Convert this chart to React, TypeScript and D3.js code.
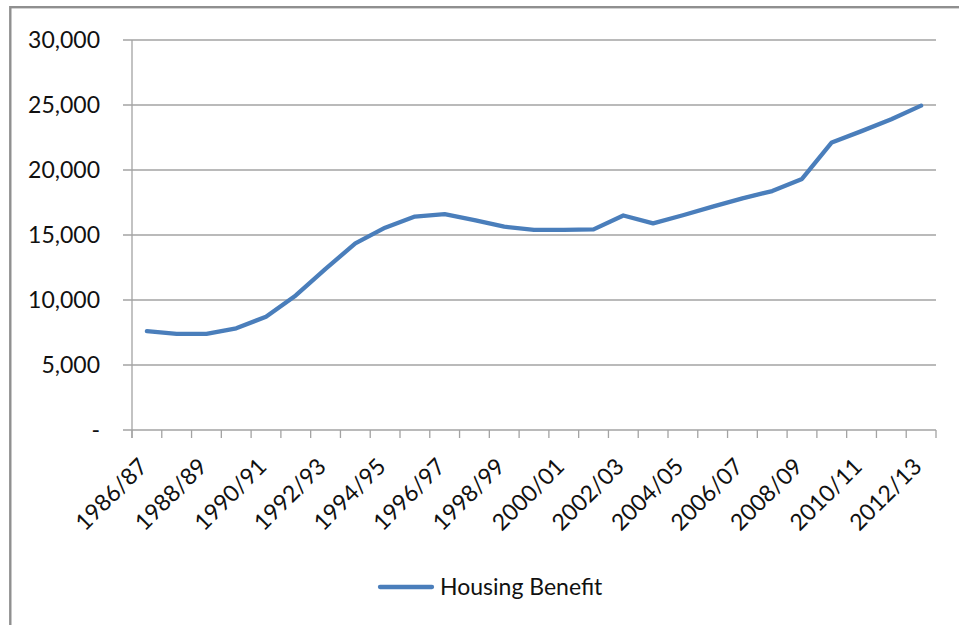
import React from "react";
import * as d3 from "d3";

const categories = [
  "1986/87","1987/88","1988/89","1989/90","1990/91","1991/92","1992/93","1993/94","1994/95",
  "1995/96","1996/97","1997/98","1998/99","1999/00","2000/01","2001/02","2002/03","2003/04",
  "2004/05","2005/06","2006/07","2007/08","2008/09","2009/10","2010/11","2011/12","2012/13",
];
const housingBenefit = [
  7600, 7400, 7400, 7820, 8720, 10350, 12400, 14350, 15560,
  16420, 16600, 16150, 15640, 15390, 15390, 15430, 16500, 15900,
  16520, 17180, 17820, 18380, 19310, 22120, 22990, 23900, 24950,
];
const yTicks = [0, 5000, 10000, 15000, 20000, 25000, 30000];
const labelEvery = 2;
const seriesName = "Housing Benefit";

const W = 959;
const H = 625;
const FONT = "Lato, 'Open Sans', sans-serif";
const LINE_COLOR = "#4a7ebb";

export default function App() {
  const x = d3.scaleBand<string>().domain(categories).range([132, 936]).paddingInner(0).paddingOuter(0);
  const y = d3.scaleLinear().domain([0, 30000]).range([430, 40]);
  const fmt = d3.format(",");
  const line = d3
    .line<number>()
    .x((_, i) => (x(categories[i]) as number) + x.bandwidth() / 2)
    .y((d) => y(d));
  const bw = x.bandwidth();
  const boundaries = d3.range(categories.length + 1).map((i) => 132 + i * bw);

  return (
    <>
      <style>{`body{margin:0}`}</style>
      <svg width={W} height={H} style={{ display: "block", background: "#fff" }} fontFamily={FONT}>
        <rect x={10.3} y={7.2} width={1200} height={1200} fill="#fff" stroke="#8f8f8f" strokeWidth={2.4} />
        {/* gridlines + y ticks */}
        {yTicks.map((t) => (
          <line key={t} x1={123} x2={936} y1={y(t)} y2={y(t)} stroke="#a3a3a3" strokeWidth={1.3} />
        ))}
        {/* y axis */}
        <line x1={132} x2={132} y1={y(30000)} y2={438} stroke="#a3a3a3" strokeWidth={1.3} />
        {/* x ticks */}
        {boundaries.map((bx, i) => (
          <line key={i} x1={bx} x2={bx} y1={430} y2={438} stroke="#a3a3a3" strokeWidth={1.3} />
        ))}
        {/* y labels */}
        {yTicks.map((t) => (
          <text key={t} x={100} y={y(t)} dy="0.36em" textAnchor="end" fontSize={23} fill="#111">
            {t === 0 ? "-" : fmt(t)}
          </text>
        ))}
        {/* x labels */}
        {categories.map((c, i) =>
          i % labelEvery === 0 ? (
            <text
              key={c}
              transform={`translate(${(x(c) as number) + bw / 2 + 2},468) rotate(-45)`}
              textAnchor="end"
              fontSize={23}
              fill="#111"
            >
              {c}
            </text>
          ) : null
        )}
        {/* series */}
        <path d={line(housingBenefit) || ""} fill="none" stroke={LINE_COLOR} strokeWidth={4.3} strokeLinejoin="round" strokeLinecap="round" />
        {/* legend */}
        <line x1={380} x2={432} y1={587} y2={587} stroke={LINE_COLOR} strokeWidth={4.3} strokeLinecap="round" />
        <text x={440} y={595} fontSize={23} fill="#111">{seriesName}</text>
      </svg>
    </>
  );
}
